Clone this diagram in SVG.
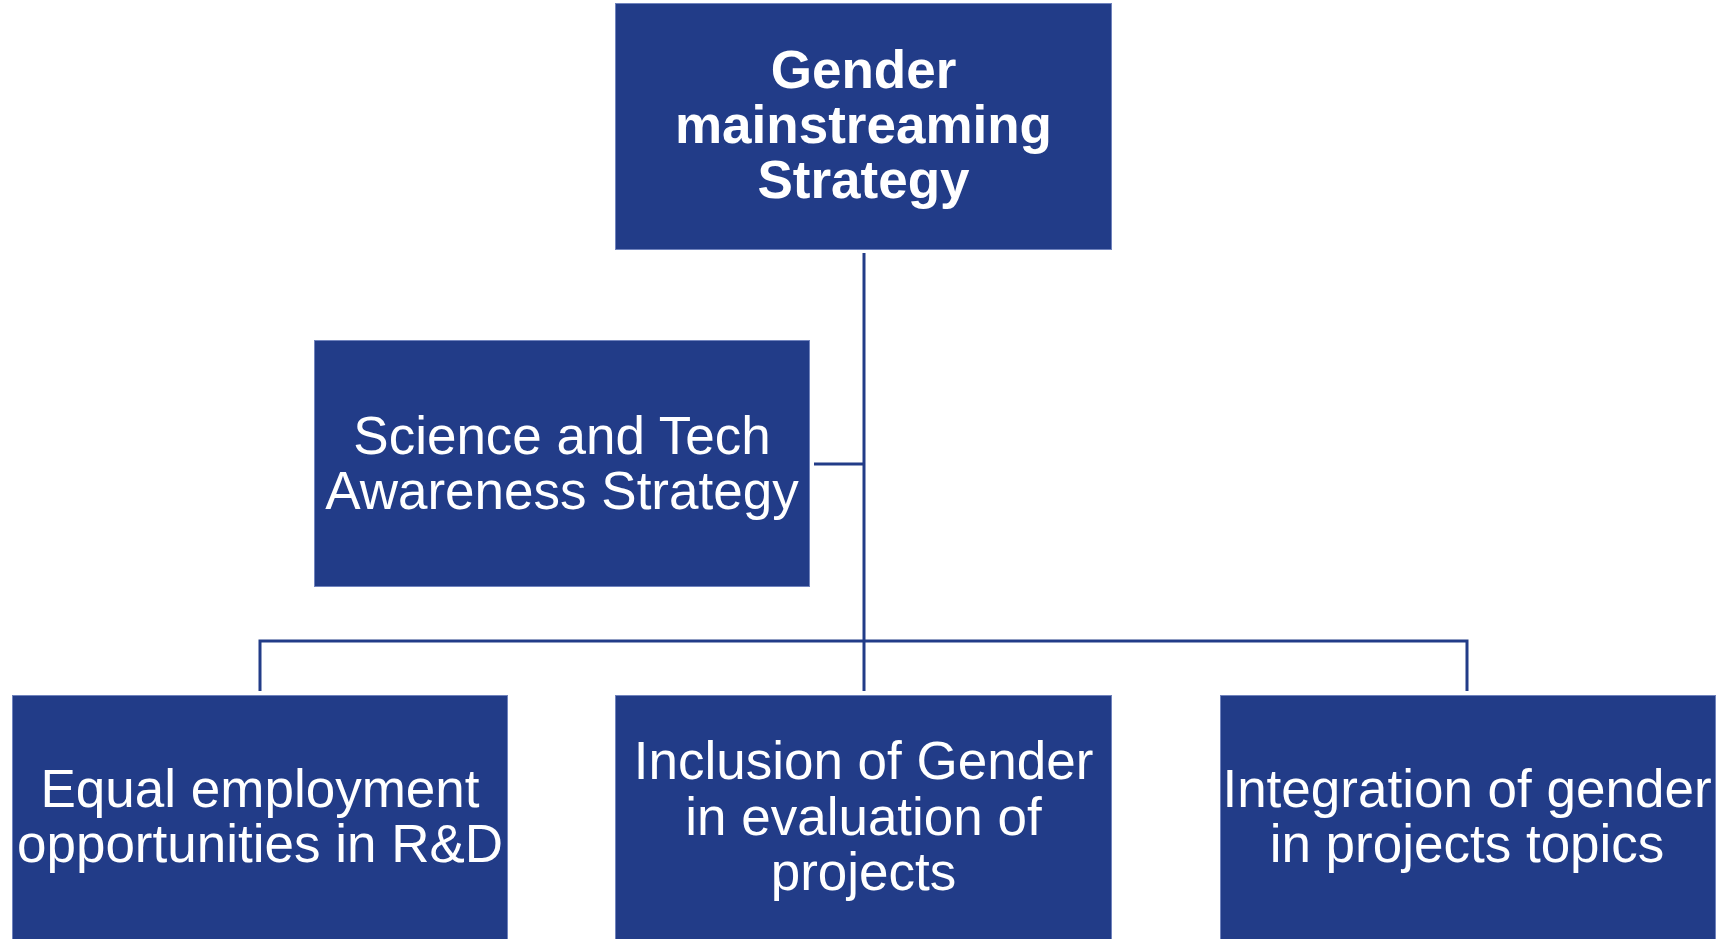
<svg xmlns="http://www.w3.org/2000/svg" width="1722" height="939" viewBox="0 0 1722 939">
<style>
.box{fill:#223C88;stroke:#7083BD;stroke-width:1}
.t{fill:#ffffff;font-family:"Liberation Sans",Arial,sans-serif;font-size:53px;text-anchor:middle}
.b{font-weight:bold;font-size:53px}
.c{fill:none;stroke:#223C88;stroke-width:3}
</style>
<rect width="1722" height="939" fill="#ffffff"/>
<g id="connectors">
<path class="c" d="M864 253 V691"/>
<path class="c" d="M814 464 H864"/>
<path class="c" d="M260 691 V641 H1467 V691"/>
</g>
<g id="node-gender">
<rect class="box" x="615.5" y="3.5" width="496" height="246"/>
<text class="t b" x="863.5" y="88">Gender</text>
<text class="t b" x="863.5" y="143">mainstreaming</text>
<text class="t b" x="863.5" y="198">Strategy</text>
</g>
<g id="node-science">
<rect class="box" x="314.5" y="340.5" width="495" height="246"/>
<text class="t" x="562" y="453.5">Science and Tech</text>
<text class="t" x="562" y="508.5">Awareness Strategy</text>
</g>
<g id="node-equal">
<rect class="box" x="12.5" y="695.5" width="495" height="260"/>
<text class="t" x="260" y="807">Equal employment</text>
<text class="t" x="260" y="862">opportunities in R&amp;D</text>
</g>
<g id="node-inclusion">
<rect class="box" x="615.5" y="695.5" width="496" height="260"/>
<text class="t" x="863.5" y="779">Inclusion of Gender</text>
<text class="t" x="863.5" y="835">in evaluation of</text>
<text class="t" x="863.5" y="890">projects</text>
</g>
<g id="node-integration">
<rect class="box" x="1220.5" y="695.5" width="495" height="260"/>
<text class="t" x="1467" y="807">Integration of gender</text>
<text class="t" x="1467" y="862">in projects topics</text>
</g>
</svg>
